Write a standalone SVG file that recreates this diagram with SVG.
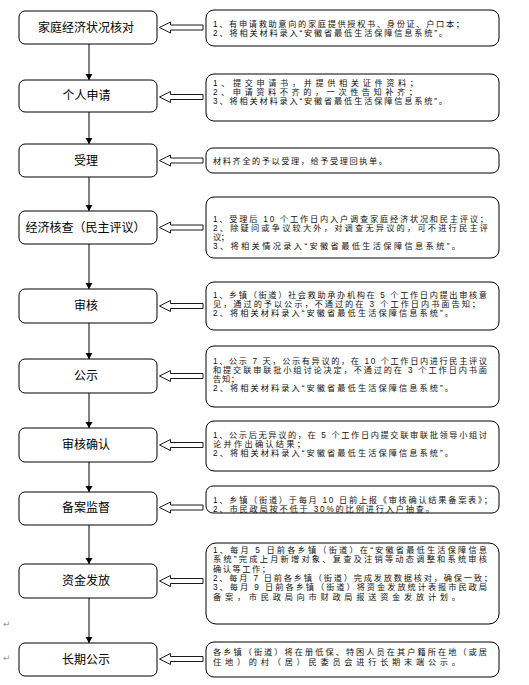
<svg xmlns="http://www.w3.org/2000/svg" xmlns:xlink="http://www.w3.org/1999/xlink" width="529" height="685" viewBox="0 0 529 685">
<style>
.step{fill:#fff;stroke:#000;stroke-width:1}
.note{fill:#fff;stroke:#000;stroke-width:1}
.st{font-family:"Noto Sans CJK SC","Noto Sans",sans-serif;font-size:12px;fill:#000;text-anchor:middle}
.nt{font-family:"Liberation Sans","Noto Sans CJK SC",sans-serif;font-size:8.2px;fill:#111}
.mk{font-family:"DejaVu Sans",sans-serif;font-size:9px;fill:#999}
.flow{stroke:#000;stroke-width:1;fill:none}
.hol{fill:#fff;stroke:#000;stroke-width:0.9}
</style>
<defs>
<marker id="ah" markerUnits="userSpaceOnUse" markerWidth="8" markerHeight="8" refX="6" refY="3.5" orient="auto">
<path d="M0,0 L6,3.5 L0,7 z" fill="#000"/>
</marker>
<path id="harrow" d="M203,-2.5 L170.5,-2.5 L170.5,-5.5 L159.5,0 L170.5,5.5 L170.5,2.5 L203,2.5 z"/>
</defs>
<rect width="529" height="685" fill="#fff"/>

<g id="connectors">
<line class="flow" x1="89" y1="44" x2="89" y2="80" marker-end="url(#ah)"/>
<line class="flow" x1="89" y1="112" x2="89" y2="144" marker-end="url(#ah)"/>
<line class="flow" x1="89" y1="177" x2="89" y2="211" marker-end="url(#ah)"/>
<line class="flow" x1="89" y1="244" x2="89" y2="289" marker-end="url(#ah)"/>
<line class="flow" x1="89" y1="323" x2="89" y2="359" marker-end="url(#ah)"/>
<line class="flow" x1="89" y1="393" x2="89" y2="428" marker-end="url(#ah)"/>
<line class="flow" x1="89" y1="462" x2="89" y2="492" marker-end="url(#ah)"/>
<line class="flow" x1="89" y1="525" x2="89" y2="564" marker-end="url(#ah)"/>
<line class="flow" x1="89" y1="598" x2="89" y2="643" marker-end="url(#ah)"/>
<use xlink:href="#harrow" href="#harrow" class="hol" y="27.5"/>
<use xlink:href="#harrow" href="#harrow" class="hol" y="97"/>
<use xlink:href="#harrow" href="#harrow" class="hol" y="160.5"/>
<use xlink:href="#harrow" href="#harrow" class="hol" y="227.5"/>
<use xlink:href="#harrow" href="#harrow" class="hol" y="306"/>
<use xlink:href="#harrow" href="#harrow" class="hol" y="376"/>
<use xlink:href="#harrow" href="#harrow" class="hol" y="445"/>
<use xlink:href="#harrow" href="#harrow" class="hol" y="507.5"/>
<use xlink:href="#harrow" href="#harrow" class="hol" y="581"/>
<use xlink:href="#harrow" href="#harrow" class="hol" y="659"/>
</g>

<g id="step1">
<rect class="step" x="19" y="11" width="138" height="33" rx="6"/>
<text class="st" x="86" y="31.8">家庭经济状况核对</text>
</g>
<g id="note1">
<rect class="note" x="206" y="10" width="293" height="36" rx="8"/>
<text class="nt" x="213" y="27.3" textLength="251" lengthAdjust="spacing">1、有申请救助意向的家庭提供授权书、身份证、户口本；</text>
<text class="nt" x="213" y="36.3" textLength="234" lengthAdjust="spacing">2、将相关材料录入“安徽省最低生活保障信息系统”。</text>
</g>

<g id="step2">
<rect class="step" x="19" y="80" width="138" height="32" rx="6"/>
<text class="st" x="86.5" y="100.3">个人申请</text>
</g>
<g id="note2">
<rect class="note" x="206" y="74" width="293" height="47" rx="8"/>
<text class="nt" x="213" y="86.3" textLength="205" lengthAdjust="spacing">1、提交申请书，并提供相关证件资料；</text>
<text class="nt" x="213" y="95.3" textLength="204" lengthAdjust="spacing">2、申请资料不齐的，一次性告知补齐；</text>
<text class="nt" x="213" y="104.3" textLength="234" lengthAdjust="spacing">3、将相关材料录入“安徽省最低生活保障信息系统”。</text>
</g>

<g id="step3">
<rect class="step" x="19" y="144" width="138" height="33" rx="6"/>
<text class="st" x="86" y="164.8">受理</text>
</g>
<g id="note3">
<rect class="note" x="206" y="148" width="293" height="25" rx="7"/>
<text class="nt" x="213" y="163.7" textLength="174" lengthAdjust="spacing">材料齐全的予以受理，给予受理回执单。</text>
</g>

<g id="step4">
<rect class="step" x="19" y="211" width="138" height="33" rx="6"/>
<text class="st" x="85.5" y="231.8">经济核查（民主评议）</text>
</g>
<g id="note4">
<rect class="note" x="206" y="197" width="293" height="61" rx="8"/>
<text class="nt" x="213" y="222.4" textLength="275" lengthAdjust="spacing">1、受理后 10 个工作日内入户调查家庭经济状况和民主评议；</text>
<text class="nt" x="213" y="231.4" textLength="275" lengthAdjust="spacing">2、除疑问或争议较大外，对调查无异议的，可不进行民主评</text>
<text class="nt" x="213" y="240.4" textLength="16" lengthAdjust="spacing">议；</text>
<text class="nt" x="213" y="249.4" textLength="247" lengthAdjust="spacing">3、将相关情况录入“安徽省最低生活保障信息系统”。</text>
</g>

<g id="step5">
<rect class="step" x="19" y="289" width="138" height="34" rx="6"/>
<text class="st" x="86" y="310.3">审核</text>
</g>
<g id="note5">
<rect class="note" x="206" y="282" width="293" height="48" rx="8"/>
<text class="nt" x="213" y="298" textLength="274" lengthAdjust="spacing">1、乡镇（街道）社会救助承办机构在 5 个工作日内提出审核意</text>
<text class="nt" x="213" y="307.1" textLength="267" lengthAdjust="spacing">见，通过的予以公示，不通过的在 3 个工作日内书面告知；</text>
<text class="nt" x="213" y="316.2" textLength="240" lengthAdjust="spacing">2、将相关材料录入“安徽省最低生活保障信息系统”。</text>
</g>

<g id="step6">
<rect class="step" x="19" y="359" width="138" height="34" rx="6"/>
<text class="st" x="86" y="380.3">公示</text>
</g>
<g id="note6">
<rect class="note" x="206" y="346" width="293" height="61" rx="8"/>
<text class="nt" x="213" y="364" textLength="274" lengthAdjust="spacing">1、公示 7 天，公示有异议的，在 10 个工作日内进行民主评议</text>
<text class="nt" x="213" y="373.1" textLength="274" lengthAdjust="spacing">和提交联审联批小组讨论决定，不通过的在 3 个工作日内书面</text>
<text class="nt" x="213" y="382.2" textLength="26" lengthAdjust="spacing">告知；</text>
<text class="nt" x="213" y="391.3" textLength="240" lengthAdjust="spacing">2、将相关材料录入“安徽省最低生活保障信息系统”。</text>
</g>

<g id="step7">
<rect class="step" x="19" y="428" width="138" height="34" rx="6"/>
<text class="st" x="86" y="449.3">审核确认</text>
</g>
<g id="note7">
<rect class="note" x="206" y="421" width="293" height="50" rx="8"/>
<text class="nt" x="213" y="438" textLength="274" lengthAdjust="spacing">1、公示后无异议的，在 5 个工作日内提交联审联批领导小组讨</text>
<text class="nt" x="213" y="447.1" textLength="92" lengthAdjust="spacing">论并作出确认结果；</text>
<text class="nt" x="213" y="456.2" textLength="240" lengthAdjust="spacing">2、将相关材料录入“安徽省最低生活保障信息系统”。</text>
</g>

<g id="step8">
<rect class="step" x="19" y="492" width="138" height="33" rx="6"/>
<text class="st" x="86" y="512.3">备案监督</text>
</g>
<g id="note8">
<rect class="note" x="206" y="486" width="293" height="27" rx="7"/>
<text class="nt" x="213" y="502.8" textLength="279" lengthAdjust="spacing">1、乡镇（街道）于每月 10 日前上报《审核确认结果备案表》；</text>
<text class="nt" x="213" y="511.9" textLength="221" lengthAdjust="spacing">2、市民政局按不低于 30%的比例进行入户抽查。</text>
</g>

<g id="step9">
<rect class="step" x="19" y="564" width="138" height="34" rx="6"/>
<text class="st" x="86" y="585.3">资金发放</text>
</g>
<g id="note9">
<rect class="note" x="206" y="543" width="293" height="81" rx="10"/>
<text class="nt" x="213" y="553" textLength="274" lengthAdjust="spacing">1、每月 5 日前各乡镇（街道）在“安徽省最低生活保障信息</text>
<text class="nt" x="213" y="562.3" textLength="274" lengthAdjust="spacing">系统”完成上月新增对象、复查及注销等动态调整和系统审核</text>
<text class="nt" x="213" y="571.6" textLength="57" lengthAdjust="spacing">确认等工作；</text>
<text class="nt" x="213" y="580.9" textLength="279" lengthAdjust="spacing">2、每月 7 日前各乡镇（街道）完成发放数据核对，确保一致；</text>
<text class="nt" x="213" y="590.2" textLength="274" lengthAdjust="spacing">3、每月 9 日前各乡镇（街道）将资金发放统计表报市民政局</text>
<text class="nt" x="213" y="599.5" textLength="247" lengthAdjust="spacing">备案，市民政局向市财政局报送资金发放计划。</text>
</g>

<g id="step10">
<rect class="step" x="19" y="643" width="138" height="33" rx="6"/>
<text class="st" x="86" y="663.8">长期公示</text>
</g>
<g id="note10">
<rect class="note" x="206" y="642" width="293" height="35" rx="8"/>
<text class="nt" x="213" y="654.7" textLength="274" lengthAdjust="spacing">各乡镇（街道）将在册低保、特困人员在其户籍所在地（或居</text>
<text class="nt" x="213" y="664.7" textLength="247" lengthAdjust="spacing">住地）的村（居）民委员会进行长期末端公示。</text>
</g>

<text class="mk" x="3" y="627">↵</text>
<text class="mk" x="3" y="661">↵</text>
</svg>
